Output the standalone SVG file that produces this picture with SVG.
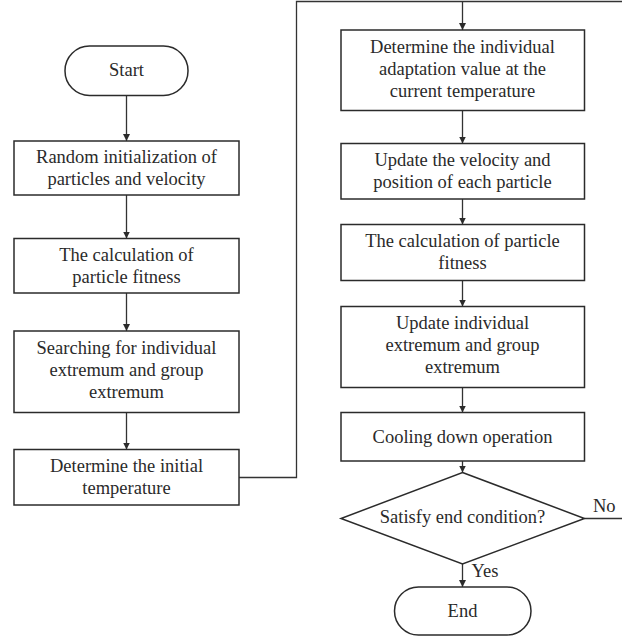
<svg xmlns="http://www.w3.org/2000/svg" width="622" height="642" viewBox="0 0 622 642">
<defs>
<style>
.box{fill:#fff;stroke:#2b2b2b;stroke-width:1.5}
.ln{fill:none;stroke:#333;stroke-width:1.3}
.t{font-family:"Liberation Serif","Times New Roman",serif;font-size:18.5px;fill:#2a2a2a;text-anchor:middle}
.lbl{font-family:"Liberation Serif","Times New Roman",serif;font-size:18.5px;fill:#2a2a2a}
</style>
<marker id="ah" viewBox="0 0 10 10" refX="10" refY="5" markerWidth="7" markerHeight="7" markerUnits="userSpaceOnUse" orient="auto">
<path d="M0,0 L10,5 L0,10 z" fill="#2b2b2b"/>
</marker>
</defs>
<rect width="622" height="642" fill="#fff"/>
<g id="connectors">
<line class="ln" x1="126.5" y1="95.5" x2="126.5" y2="141" marker-end="url(#ah)"/>
<line class="ln" x1="126.5" y1="195" x2="126.5" y2="238.5" marker-end="url(#ah)"/>
<line class="ln" x1="126.5" y1="293" x2="126.5" y2="331" marker-end="url(#ah)"/>
<line class="ln" x1="126.5" y1="412.5" x2="126.5" y2="449.5" marker-end="url(#ah)"/>
<polyline class="ln" points="239,477.5 296.5,477.5 296.5,1.5 622,1.5"/>
<line class="ln" x1="462.5" y1="1.5" x2="462.5" y2="30" marker-end="url(#ah)"/>
<line class="ln" x1="462.5" y1="110.5" x2="462.5" y2="143.5" marker-end="url(#ah)"/>
<line class="ln" x1="462.5" y1="199" x2="462.5" y2="224.5" marker-end="url(#ah)"/>
<line class="ln" x1="462.5" y1="280.5" x2="462.5" y2="306.5" marker-end="url(#ah)"/>
<line class="ln" x1="462.5" y1="387.5" x2="462.5" y2="412.5" marker-end="url(#ah)"/>
<line class="ln" x1="462.5" y1="461" x2="462.5" y2="472.5" marker-end="url(#ah)"/>
<line class="ln" x1="462.5" y1="564" x2="462.5" y2="587" marker-end="url(#ah)"/>
<line class="ln" x1="584.5" y1="518.5" x2="622" y2="518.5"/>
<text class="lbl" x="593" y="511.5">No</text>
<text class="lbl" x="471.5" y="577">Yes</text>
</g>
<g id="start">
<rect class="box" x="65" y="46" width="123" height="49.5" rx="24.5" ry="24.5"/>
<text class="t" x="126.5" y="76">Start</text>
</g>
<g id="init">
<rect class="box" x="14" y="141" width="225" height="54"/>
<text class="t" x="126.5" y="162.5">Random initialization of</text>
<text class="t" x="126.5" y="184.5">particles and velocity</text>
</g>
<g id="fitness1">
<rect class="box" x="14" y="238.5" width="225" height="54.5"/>
<text class="t" x="126.5" y="260.5">The calculation of</text>
<text class="t" x="126.5" y="282.5">particle fitness</text>
</g>
<g id="search">
<rect class="box" x="14" y="331" width="225" height="81.5"/>
<text class="t" x="126.5" y="353.5">Searching for individual</text>
<text class="t" x="126.5" y="375.5">extremum and group</text>
<text class="t" x="126.5" y="397.5">extremum</text>
</g>
<g id="inittemp">
<rect class="box" x="14" y="449.5" width="225" height="55.5"/>
<text class="t" x="126.5" y="471.5">Determine the initial</text>
<text class="t" x="126.5" y="493.5">temperature</text>
</g>
<g id="adapt">
<rect class="box" x="341" y="30" width="243.5" height="80.5"/>
<text class="t" x="462.5" y="53">Determine the individual</text>
<text class="t" x="462.5" y="75">adaptation value at the</text>
<text class="t" x="462.5" y="97">current temperature</text>
</g>
<g id="update">
<rect class="box" x="341" y="143.5" width="243.5" height="55.5"/>
<text class="t" x="462.5" y="165.5">Update the velocity and</text>
<text class="t" x="462.5" y="187.5">position of each particle</text>
</g>
<g id="fitness2">
<rect class="box" x="341" y="224.5" width="243.5" height="56"/>
<text class="t" x="462.5" y="246.5">The calculation of particle</text>
<text class="t" x="462.5" y="268.5">fitness</text>
</g>
<g id="extremum">
<rect class="box" x="341" y="306.5" width="243.5" height="81"/>
<text class="t" x="462.5" y="329">Update individual</text>
<text class="t" x="462.5" y="351">extremum and group</text>
<text class="t" x="462.5" y="373">extremum</text>
</g>
<g id="cooling">
<rect class="box" x="341" y="412.5" width="243.5" height="48.5"/>
<text class="t" x="462.5" y="442.5">Cooling down operation</text>
</g>
<g id="decision">
<polygon class="box" points="462.5,472.5 584.5,518.5 462.5,564 341,518.5"/>
<text class="t" x="462.5" y="523">Satisfy end condition?</text>
</g>
<g id="end">
<rect class="box" x="394.5" y="587" width="136.5" height="48" rx="24" ry="24"/>
<text class="t" x="462.5" y="617">End</text>
</g>
</svg>
